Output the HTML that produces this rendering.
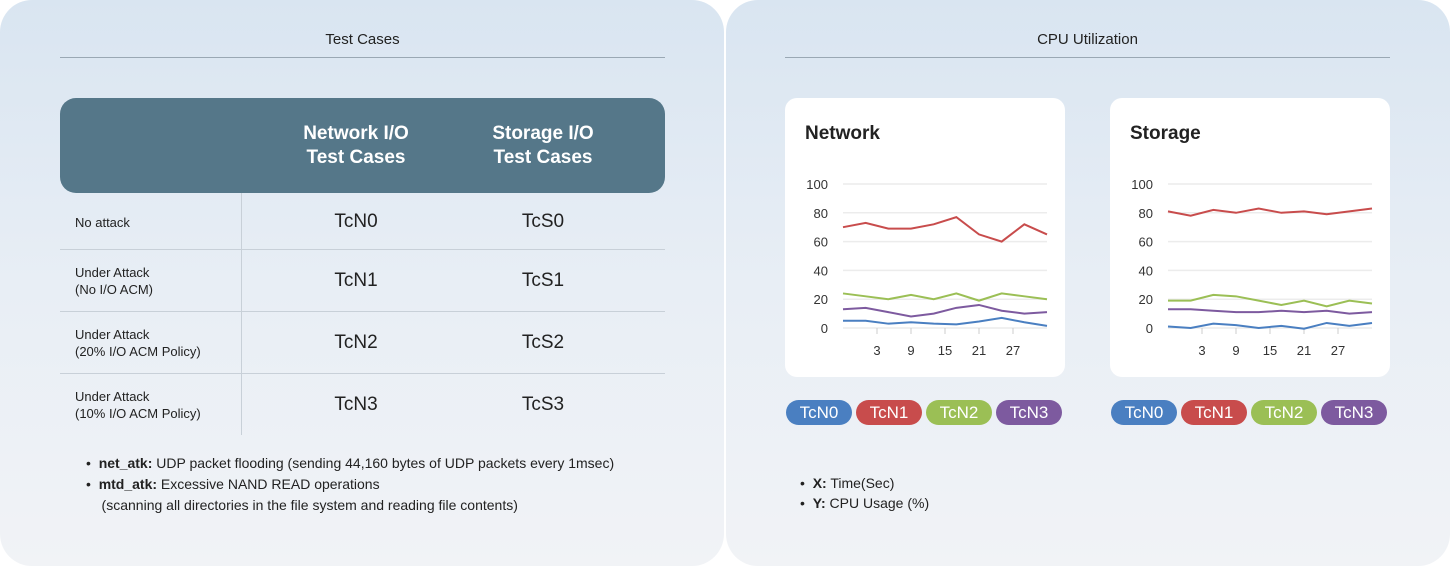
<!DOCTYPE html>
<html><head><meta charset="utf-8"><style>
body{margin:0;width:1450px;height:566px;background:#fff;font-family:"Liberation Sans",sans-serif;position:relative;overflow:hidden;color:#222}
.panel{position:absolute;top:0;height:566px;border-radius:32px;background:linear-gradient(180deg,#d9e5f1 0%,#e8eef5 50%,#f1f3f6 100%)}
.abs{position:absolute}
.title{font-size:15px;text-align:center;color:#222}
.hline{height:1px;background:#9aa8b4}
.hdr{left:60px;top:98px;width:605px;height:95px;background:#557789;border-radius:16px}
.hcell{color:#fff;font-weight:bold;font-size:19px;text-align:center;line-height:24px;width:160px}
.rowlbl{font-size:13px;line-height:17px;left:75px}
.tc{font-size:19px;width:120px;text-align:center}
.rline{left:60px;width:605px;height:1px;background:#c8d0d8}
.card{background:#fff;border-radius:12px}
.pill{height:25px;border-radius:13px;color:#fff;font-size:17px;text-align:center;line-height:25px;width:66px}
.bul{font-size:14px;line-height:21px}
</style></head><body>
<div class="panel" style="left:0;width:724px"></div>
<div class="panel" style="left:726px;width:724px"></div>

<div class="abs title" style="left:60px;width:605px;top:31px">Test Cases</div>
<div class="abs hline" style="left:60px;width:605px;top:57px"></div>
<div class="abs title" style="left:785px;width:605px;top:31px">CPU Utilization</div>
<div class="abs hline" style="left:785px;width:605px;top:57px"></div>

<div class="abs hdr"></div>
<div class="abs hcell" style="left:276px;top:122px">Network I/O<br>Test Cases</div>
<div class="abs hcell" style="left:463px;top:122px">Storage I/O<br>Test Cases</div>
<div class="abs" style="left:241px;top:193px;width:1px;height:242px;background:#c8d0d8"></div>
<div class="abs rline" style="top:249px"></div><div class="abs rline" style="top:311px"></div><div class="abs rline" style="top:373px"></div>

<div class="abs rowlbl" style="top:214px">No attack</div>
<div class="abs rowlbl" style="top:264px">Under Attack<br>(No I/O ACM)</div>
<div class="abs rowlbl" style="top:326px">Under Attack<br>(20% I/O ACM Policy)</div>
<div class="abs rowlbl" style="top:388px">Under Attack<br>(10% I/O ACM Policy)</div>
<div class="abs tc" style="left:296px;top:211px">TcN0</div>
<div class="abs tc" style="left:483px;top:211px">TcS0</div>
<div class="abs tc" style="left:296px;top:270px">TcN1</div>
<div class="abs tc" style="left:483px;top:270px">TcS1</div>
<div class="abs tc" style="left:296px;top:332px">TcN2</div>
<div class="abs tc" style="left:483px;top:332px">TcS2</div>
<div class="abs tc" style="left:296px;top:394px">TcN3</div>
<div class="abs tc" style="left:483px;top:394px">TcS3</div>

<div class="abs bul" style="left:86px;top:453px">
• &nbsp;<b>net_atk:</b> UDP packet flooding (sending 44,160 bytes of UDP packets every 1msec)<br>
• &nbsp;<b>mtd_atk:</b> Excessive NAND READ operations<br>
&nbsp;&nbsp;&nbsp;&nbsp;(scanning all directories in the file system and reading file contents)</div>

<div class="abs card" style="left:785px;top:98px;width:280px;height:279px"></div>
<div class="abs card" style="left:1110px;top:98px;width:280px;height:279px"></div>
<svg class="abs" style="left:0;top:0" width="1450" height="566" id="charts"></svg>

<div class="abs bul" style="left:800px;top:473px;line-height:20px">• &nbsp;<b>X:</b> Time(Sec)<br>• &nbsp;<b>Y:</b> CPU Usage (%)</div>

<script>
const seriesNames=["TcN0","TcN1","TcN2","TcN3"];
const colors=["#4a7fc1","#c84c4c","#9bbf55","#7d5a9f"];
const times=[-3,1,5,9,13,17,21,25,29,33];
const xTicks=[3,9,15,21,27];
const yTicks=[0,20,40,60,80,100];
const netN0=[5,5,3,4,3,2.5,4.5,7,4,1.5];
const netN1=[70,73,69,69,72,77,65,60,72,65];
const netN2=[24,22,20,23,20,24,19,24,22,20];
const netN3=[13,14,11,8,10,14,16,12,10,11];
const stoN0=[1,0,3,2,0,1.5,-0.5,3.5,1.5,3.5];
const stoN1=[81,78,82,80,83,80,81,79,81,83];
const stoN2=[19,19,23,22,19,16,19,15,19,17];
const stoN3=[13,13,12,11,11,12,11,12,10,11];
const svg=document.getElementById('charts');
const NS="http://www.w3.org/2000/svg";
function mk(t,a){const e=document.createElementNS(NS,t);for(const k in a)e.setAttribute(k,a[k]);svg.appendChild(e);return e;}
function chart(ox,title,data,key){
  const x0=ox+58,x1=ox+262,yTop=184,yBot=328;
  const sx=v=>x0+(v-times[0])/(times[times.length-1]-times[0])*(x1-x0);
  const sy=v=>yBot-v/100*(yBot-yTop);
  const t=mk('text',{x:ox+20,y:139,'font-size':19,'font-weight':'bold',fill:'#222'});t.textContent=title;
  
  
  yTicks.forEach(v=>{
    const g=mk('line',{x1:x0,x2:x1,y1:sy(v),y2:sy(v),stroke:'#ececec','stroke-width':1.5});
    
    
    const l=mk('text',{x:ox+43,y:sy(v)+5,'font-size':13,'text-anchor':'end',fill:'#333'});l.textContent=v;
    
    
  });
  xTicks.forEach(v=>{
    mk('line',{x1:sx(v),x2:sx(v),y1:yBot,y2:yBot+6,stroke:'#ccc'});
    const l=mk('text',{x:sx(v),y:355,'font-size':13,'text-anchor':'middle',fill:'#333'});l.textContent=v;
    
    
  });
  [1,2,3,0].forEach(i=>{
    const p=mk('polyline',{points:data[i].map((v,j)=>sx(times[j])+','+sy(v)).join(' '),fill:'none',stroke:colors[i],'stroke-width':2});
    
    
  });
  seriesNames.forEach((n,i)=>{
    const d=document.createElement('div');
    d.className='abs pill';d.style.left=(ox+1+i*70)+'px';d.style.top='400px';d.style.background=colors[i];d.textContent=n;
    
    
    document.body.appendChild(d);
  });
}
chart(785,'Network',[netN0,netN1,netN2,netN3],'network');
chart(1110,'Storage',[stoN0,stoN1,stoN2,stoN3],'storage');
</script>
</body></html>
